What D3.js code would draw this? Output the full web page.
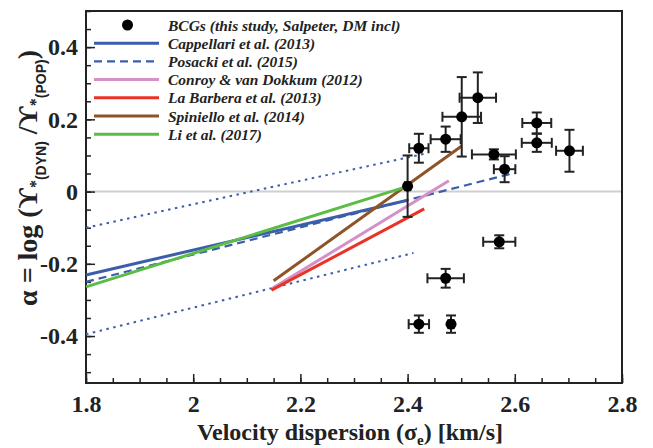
<!DOCTYPE html>
<html>
<head>
<meta charset="utf-8">
<script src="https://cdn.jsdelivr.net/npm/d3@7"></script>
<style>
  body { margin: 0; background: #fff; }
  svg { display: block; }
</style>
</head>
<body>
<svg id="chart" width="653" height="448"></svg>
<script>

// BCG measurements (log sigma_e, alpha) with symmetric errors
const bcgSigma = [2.400, 2.421, 2.471, 2.501, 2.531, 2.561, 2.581, 2.641, 2.641, 2.702, 2.571, 2.471, 2.421, 2.481];
const bcgAlpha = [0.015, 0.120, 0.145, 0.207, 0.260, 0.103, 0.062, 0.190, 0.135, 0.113, -0.139, -0.240, -0.367, -0.367];
const bcgSigmaErr = [0.005, 0.018, 0.028, 0.036, 0.034, 0.041, 0.020, 0.027, 0.028, 0.025, 0.030, 0.034, 0.019, 0.005];
const bcgAlphaErr = [0.085, 0.040, 0.035, 0.110, 0.070, 0.014, 0.036, 0.029, 0.025, 0.058, 0.018, 0.026, 0.024, 0.024];

// literature relations, start and end points
const relationNames = ['Cappellari et al. (2013)', 'Posacki et al. (2015)', 'Conroy & van Dokkum (2012)',
    'La Barbera et al. (2013)', 'Spiniello et al. (2014)', 'Li et al. (2017)'];
const relationSigma = [[1.80, 2.40], [1.80, 2.60], [2.148, 2.477], [2.146, 2.431], [2.150, 2.501], [1.80, 2.397]];
const relationAlpha = [[-0.231, -0.024], [-0.250, 0.052], [-0.268, 0.030], [-0.273, -0.048], [-0.247, 0.126], [-0.264, 0.013]];

// Cappellari scatter (dotted)
const scatterSigma = [[1.80, 2.432], [1.80, 2.411]];
const scatterAlpha = [[-0.100, 0.105], [-0.395, -0.170]];

const bcgLabel = 'BCGs (this study, Salpeter, DM incl)';

const xMajor = [1.8, 2.0, 2.2, 2.4, 2.6, 2.8];
const yMajor = [-0.4, -0.2, 0, 0.2, 0.4];

const styles = {
    'Cappellari et al. (2013)': {color: '#3b5daa', dash: null, width: 3},
    'Posacki et al. (2015)': {color: '#3b5daa', dash: '8,5', width: 2.2},
    'Conroy & van Dokkum (2012)': {color: '#d690c8', dash: null, width: 3},
    'La Barbera et al. (2013)': {color: '#ea3327', dash: null, width: 3},
    'Spiniello et al. (2014)': {color: '#8e5428', dash: null, width: 3},
    'Li et al. (2017)': {color: '#5cbd46', dash: null, width: 3}
};

const margin = {left: 86, top: 11, right: 31, bottom: 65};
const width = 653 - margin.left - margin.right;
const height = 448 - margin.top - margin.bottom;
const serif = '"Liberation Serif", "Times New Roman", serif';
const sans = '"Liberation Sans", Arial, sans-serif';

// plain hyphen for negatives, like the original
const tickFmt = d => String(+d.toFixed(2));

const svg = d3.select('#chart');
const g = svg.append('g')
    .attr('transform', 'translate(' + margin.left + ',' + margin.top + ')');

const x = d3.scaleLinear().domain([1.8, 2.8]).range([0, width]);
const y = d3.scaleLinear().domain([-0.53, 0.5]).range([height, 0]);

//zero line
g.append('line')
    .attr('x1', 0).attr('x2', width)
    .attr('y1', y(0)).attr('y2', y(0))
    .style('stroke', '#d0d0d0')
    .style('stroke-width', 2);

//minor ticks
const xMinor = d3.range(1.8, 2.8001, 0.05);
const yMinor = d3.range(-0.5, 0.5001, 0.05);

g.append('g')
    .attr('transform', 'translate(0,' + height + ')')
    .call(d3.axisBottom(x).tickValues(xMinor).tickSize(-5).tickFormat(''))
    .call(a => a.select('.domain').remove());
g.append('g')
    .call(d3.axisLeft(y).tickValues(yMinor).tickSize(-5).tickFormat(''))
    .call(a => a.select('.domain').remove());

//major ticks
const xAxis = g.append('g')
    .attr('transform', 'translate(0,' + height + ')')
    .call(d3.axisBottom(x).tickValues(xMajor).tickSize(-9).tickFormat(tickFmt));
xAxis.select('.domain').remove();
xAxis.selectAll('text')
    .attr('y', 29).attr('dy', null);

const yAxis = g.append('g')
    .call(d3.axisLeft(y).tickValues(yMajor).tickSize(-9).tickFormat(tickFmt));
yAxis.select('.domain').remove();
yAxis.selectAll('text')
    .attr('x', -8);

svg.selectAll('.tick line')
    .style('stroke', '#222')
    .style('stroke-width', 1.5);
svg.selectAll('.tick text')
    .attr('fill', '#222')
    .attr('font-family', serif)
    .attr('font-weight', 'bold')
    .attr('font-size', 24);

//frame
g.append('rect')
    .attr('width', width)
    .attr('height', height)
    .style('fill', 'none')
    .style('stroke', '#222')
    .style('stroke-width', 2);

//dotted scatter lines
scatterSigma.forEach((s, i) => {
    g.append('line')
        .attr('x1', x(s[0])).attr('y1', y(scatterAlpha[i][0]))
        .attr('x2', x(s[1])).attr('y2', y(scatterAlpha[i][1]))
        .style('stroke', '#3b5daa')
        .style('stroke-width', 2)
        .style('stroke-dasharray', '2.5,4.5');
});

//relations
relationNames.forEach((name, i) => {
    const st = styles[name];
    g.append('line')
        .attr('x1', x(relationSigma[i][0])).attr('y1', y(relationAlpha[i][0]))
        .attr('x2', x(relationSigma[i][1])).attr('y2', y(relationAlpha[i][1]))
        .style('stroke', st.color)
        .style('stroke-width', st.width)
        .style('stroke-dasharray', st.dash);
});

//error bars
const errG = g.append('g')
    .style('stroke', '#222')
    .style('stroke-width', 2);
const cap = 5;
bcgSigma.forEach((s, i) => {
    const cx = x(s), cy = y(bcgAlpha[i]);
    const x0 = x(s - bcgSigmaErr[i]), x1 = x(s + bcgSigmaErr[i]);
    const y0 = y(bcgAlpha[i] - bcgAlphaErr[i]), y1 = y(bcgAlpha[i] + bcgAlphaErr[i]);
    errG.append('line').attr('x1', x0).attr('x2', x1).attr('y1', cy).attr('y2', cy);
    errG.append('line').attr('x1', cx).attr('x2', cx).attr('y1', y0).attr('y2', y1);
    errG.append('line').attr('x1', x0).attr('x2', x0).attr('y1', cy - cap).attr('y2', cy + cap);
    errG.append('line').attr('x1', x1).attr('x2', x1).attr('y1', cy - cap).attr('y2', cy + cap);
    errG.append('line').attr('x1', cx - cap).attr('x2', cx + cap).attr('y1', y0).attr('y2', y0);
    errG.append('line').attr('x1', cx - cap).attr('x2', cx + cap).attr('y1', y1).attr('y2', y1);
});

g.selectAll('circle.bcg')
    .data(bcgSigma)
    .enter().append('circle')
    .attr('class', 'bcg')
    .attr('cx', d => x(d))
    .attr('cy', (d, i) => y(bcgAlpha[i]))
    .attr('r', 5.5)
    .style('fill', '#000');

//legend
const legend = g.append('g').attr('transform', 'translate(8,14)');
const rowH = 18.2;
const legendFont = (sel) => sel
    .attr('font-family', serif)
    .attr('font-style', 'italic')
    .attr('font-weight', 'bold')
    .attr('font-size', 15.5)
    .attr('fill', '#222');

legend.append('circle')
    .attr('cx', 33.5).attr('cy', 0).attr('r', 5.5)
    .style('fill', '#000');
legend.append('text')
    .attr('x', 74).attr('y', 5.5)
    .text(bcgLabel)
    .call(legendFont);

relationNames.forEach((name, i) => {
    const st = styles[name];
    const ly = rowH * (i + 1);
    legend.append('line')
        .attr('x1', 0).attr('x2', 65)
        .attr('y1', ly).attr('y2', ly)
        .style('stroke', st.color)
        .style('stroke-width', st.width)
        .style('stroke-dasharray', st.dash);
    legend.append('text')
        .attr('x', 74).attr('y', ly + 5.5)
        .text(name)
        .call(legendFont);
});

//x axis title
const xt = svg.append('text')
    .attr('x', margin.left + width / 2 - 4)
    .attr('y', 440)
    .attr('text-anchor', 'middle')
    .attr('font-family', serif)
    .attr('font-weight', 'bold')
    .attr('font-size', 24)
    .attr('fill', '#222');
xt.append('tspan').text('Velocity dispersion (σ');
xt.append('tspan').attr('font-size', 15).attr('dy', 5).text('e');
xt.append('tspan').attr('dy', -5).text(') [km/s]');

//y axis title
const yt = svg.append('text')
    .attr('transform', 'translate(37,' + 178 + ') rotate(-90)')
    .attr('text-anchor', 'middle')
    .attr('font-family', serif)
    .attr('font-weight', 'bold')
    .attr('font-size', 28)
    .attr('fill', '#222');
yt.append('tspan').text('α = log (ϒ');
yt.append('tspan').attr('font-size', 16).attr('dy', 4).text('*');
yt.append('tspan').attr('font-size', 14).attr('font-family', sans).attr('dy', 5).text('(DYN)');
yt.append('tspan').attr('dy', -9).text(' /ϒ');
yt.append('tspan').attr('font-size', 16).attr('dy', 4).text('*');
yt.append('tspan').attr('font-size', 14).attr('font-family', sans).attr('dy', 5).text('(POP)');
yt.append('tspan').attr('dy', -9).text(')');

</script>
</body>
</html>
